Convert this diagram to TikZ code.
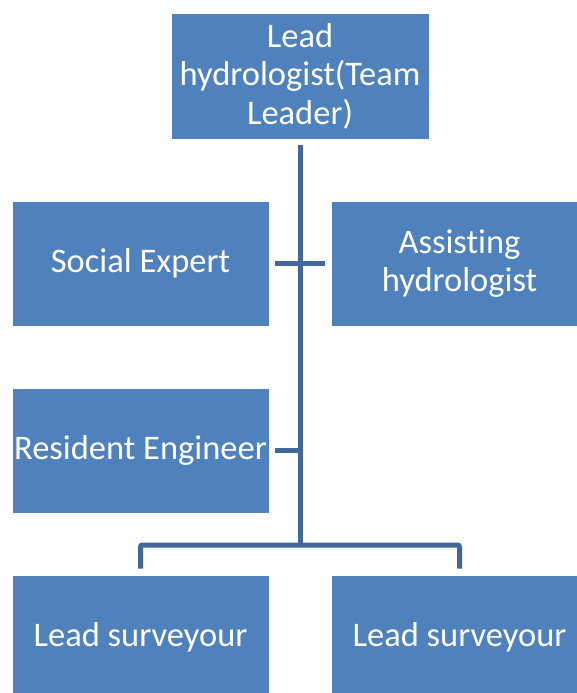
\documentclass[tikz,border=0pt]{standalone}
\usepackage{fontspec}
\setmainfont[Ligatures=NoCommon]{Carlito}
\usepackage{xcolor}
\definecolor{TeamBlue}{RGB}{79, 129, 189}
\definecolor{TeamLine}{RGB}{65, 104, 154}

\tikzset{
  rolebox/.style={fill=TeamBlue, draw=white, line width=0.8pt, text=white,
    minimum width=257pt, minimum height=125pt, inner sep=0pt, align=center,
    font=\fontsize{34.5}{38.5}\selectfont},
  link/.style={TeamLine, line width=5pt}
}

\begin{document}
\begin{tikzpicture}[x=1pt, y=-1pt]

% Page frame
\useasboundingbox (0,0) rectangle (577,693);
\clip (0,0) rectangle (577,693);

% Team leader
\node[rolebox, minimum width=258pt, minimum height=126pt] (lead) at (300,76) {Lead\\hydrologist(Team\\Leader)};

% Staff around the spine
\node[rolebox] (social) at (140.5,263.5) {Social Expert};
\node[rolebox] (assist) at (459.5,263.5) {Assisting\\hydrologist};
\node[rolebox] (resident) at (140.5,450.5) {Resident Engineer};

% Survey team
\node[rolebox] (survA) at (140.5,637.5) {Lead surveyour};
\node[rolebox] (survB) at (459.5,637.5) {Lead surveyour};

% Connectors
\coordinate (hub) at (300,545);
\draw[link] ([yshift=-6pt]lead.south) -- (hub);
\draw[link] ([xshift=6pt]social.east) -- ([xshift=-6pt]assist.west);
\draw[link] ([xshift=6pt]resident.east) -- (resident.east -| hub);
\draw[link, rounded corners=2pt] ([yshift=6pt]survA.north) |- (hub) -| ([yshift=6pt]survB.north);

\end{tikzpicture}
\end{document}
